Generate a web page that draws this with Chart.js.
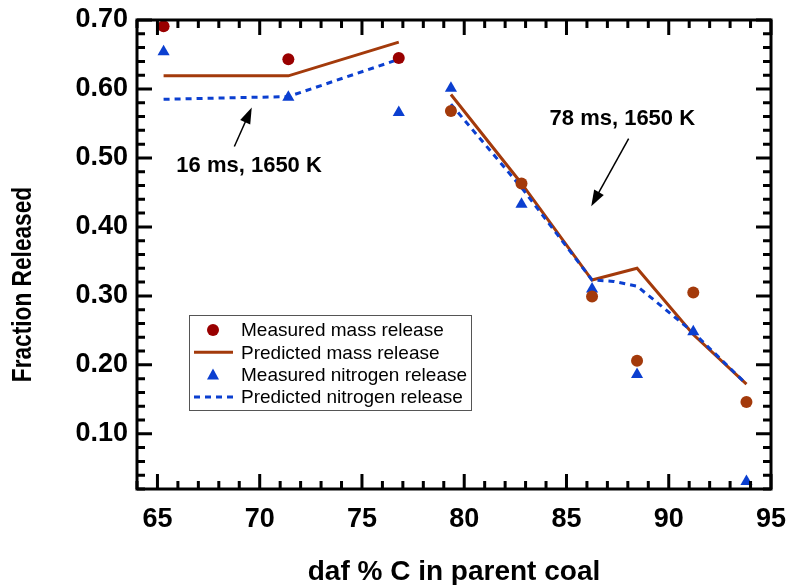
<!DOCTYPE html>
<html>
<head>
<meta charset="utf-8">
<script src="https://cdn.jsdelivr.net/npm/chart.js@4.4.1/dist/chart.umd.min.js"></script>
<style>
  body { margin: 0; background: #fff; }
  canvas { display: block; }
</style>
</head>
<body>
<canvas id="coal-chart" width="788" height="585"></canvas>
<script>
// daf % C of each coal
const carbon = [65.3, 71.4, 76.8, 79.35, 82.8, 86.25, 88.45, 91.2, 93.8];
// measured values, same order as carbon
const massMeasured = [0.691, 0.643, 0.645, 0.568, 0.463, 0.299, 0.206, 0.305, 0.146];
const nitrogenMeasured = [0.654, 0.588, 0.566, 0.601, 0.433, 0.31, 0.186, 0.248, 0.031];
// predictions (null = break between the 16 ms and 78 ms runs)
const massPredX = [65.3, 71.4, 76.8, 78, 79.35, 82.8, 86.25, 88.45, 91.2, 93.8];
const massPredY = [0.619, 0.619, 0.668, null, 0.592, 0.463, 0.323, 0.34, 0.244, 0.172];
const nitroPredX = [65.3, 71.4, 76.6, 78, 79.35, 82.8, 86.25, 87.3, 88.45, 89.2, 91.2, 93.8];
const nitroPredY = [0.585, 0.589, 0.641, null, 0.578, 0.457, 0.323, 0.321, 0.314, 0.296, 0.247, 0.172];
const xTicks = [65, 70, 75, 80, 85, 90, 95];
const yTicks = [0.1, 0.2, 0.3, 0.4, 0.5, 0.6, 0.7];
const legendLabels = ["Measured mass release", "Predicted mass release",
  "Measured nitrogen release", "Predicted nitrogen release"];
const yTitle = "Fraction Released";

const RED16 = "#990000";
const BROWN = "#a33a0b";
const BLUE = "#0b3fd0";
const FONT = "'Liberation Sans', Arial, sans-serif";

const pts = (xs, ys) => xs.map((x, i) => ({ x: x, y: ys[i] }));

// frame with inward ticks, y title, legend box and the two labelled arrows
const decorPlugin = {
  id: "decor",
  afterDraw(chart) {
    const ctx = chart.ctx;
    const a = chart.chartArea;
    const xs = chart.scales.x, ys = chart.scales.y;
    ctx.save();
    ctx.strokeStyle = "#000";
    ctx.lineWidth = 3;
    ctx.lineCap = "butt";
    ctx.beginPath();
    for (let v = 64; v <= 95; v++) {
      const px = xs.getPixelForValue(v);
      const len = v % 5 === 0 ? 15 : 8;
      ctx.moveTo(px, a.bottom); ctx.lineTo(px, a.bottom - len);
      ctx.moveTo(px, a.top); ctx.lineTo(px, a.top + len);
    }
    for (let k = 1; k <= 35; k++) {
      const v = k * 0.02;
      const py = ys.getPixelForValue(v);
      const len = k % 5 === 0 ? 15 : 8;
      ctx.moveTo(a.left, py); ctx.lineTo(a.left + len, py);
      ctx.moveTo(a.right, py); ctx.lineTo(a.right - len, py);
    }
    ctx.stroke();
    ctx.strokeRect(a.left, a.top, a.right - a.left, a.bottom - a.top);

    // condensed y-axis title
    ctx.save();
    ctx.translate(23, (a.top + a.bottom) / 2 + 30);
    ctx.rotate(-Math.PI / 2);
    ctx.scale(0.81, 1);
    ctx.font = "bold 28px " + FONT;
    ctx.fillStyle = "#000";
    ctx.textAlign = "center";
    ctx.textBaseline = "middle";
    ctx.fillText(yTitle, 0, 0);
    ctx.restore();

    // legend
    const lx = a.left + 52, ly = a.top + 295;
    ctx.lineWidth = 1;
    ctx.strokeStyle = "#555";
    ctx.strokeRect(lx + 0.5, ly + 0.5, 282, 95);
    ctx.font = "19px " + FONT;
    ctx.textBaseline = "middle";
    legendLabels.forEach((t, i) => {
      const cy = ly + 15 + i * 22.3;
      ctx.fillStyle = "#000";
      ctx.fillText(t, lx + 52, cy + 1);
      const sx = lx + 24;
      if (i === 0) {
        ctx.fillStyle = RED16;
        ctx.beginPath(); ctx.arc(sx, cy, 6, 0, Math.PI * 2); ctx.fill();
      } else if (i === 2) {
        ctx.fillStyle = BLUE;
        ctx.beginPath();
        ctx.moveTo(sx, cy - 6); ctx.lineTo(sx + 6, cy + 5); ctx.lineTo(sx - 6, cy + 5);
        ctx.closePath(); ctx.fill();
      } else {
        ctx.lineWidth = 3;
        ctx.strokeStyle = i === 1 ? BROWN : BLUE;
        ctx.setLineDash(i === 1 ? [] : [6, 5]);
        ctx.beginPath(); ctx.moveTo(lx + 5, cy); ctx.lineTo(lx + 44, cy); ctx.stroke();
        ctx.setLineDash([]);
      }
    });

    // annotations
    const notes = [
      { text: "16 ms, 1650 K", tx: 69.48, ty: 0.489, from: [68.76, 0.5165], to: [69.61, 0.573] },
      { text: "78 ms, 1650 K", tx: 87.73, ty: 0.556, from: [88.04, 0.528], to: [86.21, 0.43] }
    ];
    ctx.font = "bold 22px " + FONT;
    ctx.textAlign = "center";
    notes.forEach(n => {
      ctx.fillStyle = "#000";
      ctx.fillText(n.text, xs.getPixelForValue(n.tx), ys.getPixelForValue(n.ty));
      const x1 = xs.getPixelForValue(n.from[0]), y1 = ys.getPixelForValue(n.from[1]);
      const x2 = xs.getPixelForValue(n.to[0]), y2 = ys.getPixelForValue(n.to[1]);
      const ang = Math.atan2(y2 - y1, x2 - x1);
      ctx.strokeStyle = "#000";
      ctx.lineWidth = 1.5;
      ctx.beginPath();
      ctx.moveTo(x1, y1);
      ctx.lineTo(x2 - 12 * Math.cos(ang), y2 - 12 * Math.sin(ang));
      ctx.stroke();
      ctx.beginPath();
      ctx.moveTo(x2, y2);
      ctx.lineTo(x2 - 16 * Math.cos(ang) + 5.5 * Math.sin(ang), y2 - 16 * Math.sin(ang) - 5.5 * Math.cos(ang));
      ctx.lineTo(x2 - 16 * Math.cos(ang) - 5.5 * Math.sin(ang), y2 - 16 * Math.sin(ang) + 5.5 * Math.cos(ang));
      ctx.closePath();
      ctx.fill();
    });
    ctx.restore();
  }
};

const ctx = document.getElementById("coal-chart").getContext("2d");
new Chart(ctx, {
  type: "scatter",
  data: {
    datasets: [
      {
        label: legendLabels[0],
        data: pts(carbon, massMeasured),
        pointStyle: "circle",
        pointRadius: 6,
        pointBackgroundColor: carbon.map(c => (c < 78 ? RED16 : BROWN)),
        pointBorderWidth: 0,
        showLine: false,
        order: 0
      },
      {
        label: legendLabels[2],
        data: pts(carbon, nitrogenMeasured),
        pointStyle: "triangle",
        pointRadius: 7,
        pointBackgroundColor: BLUE,
        pointBorderWidth: 0,
        showLine: false,
        order: 1
      },
      {
        label: legendLabels[1],
        data: pts(massPredX, massPredY),
        showLine: true,
        borderColor: BROWN,
        borderWidth: 3,
        pointRadius: 0,
        spanGaps: false,
        order: 3
      },
      {
        label: legendLabels[3],
        data: pts(nitroPredX, nitroPredY),
        showLine: true,
        borderColor: BLUE,
        borderWidth: 3,
        borderDash: [6, 5],
        pointRadius: 0,
        spanGaps: false,
        order: 2
      }
    ]
  },
  options: {
    responsive: false,
    devicePixelRatio: 1,
    animation: false,
    layout: { padding: { top: 20, right: 17, left: 0, bottom: 0 } },
    plugins: { legend: { display: false }, tooltip: { enabled: false } },
    scales: {
      x: {
        type: "linear",
        min: 64,
        max: 95,
        afterBuildTicks: s => { s.ticks = xTicks.map(v => ({ value: v })); },
        afterFit: s => { s.height = 96; s.paddingLeft = 0; s.paddingRight = 0; },
        grid: { display: false, drawTicks: false },
        border: { display: false },
        ticks: { color: "#000", padding: 14, font: { family: FONT, size: 27, weight: "bold" } },
        title: {
          display: true,
          text: "daf % C in parent coal",
          color: "#000",
          padding: { top: 0, bottom: -4 },
          font: { family: FONT, size: 28, weight: "bold" }
        }
      },
      y: {
        type: "linear",
        min: 0.02,
        max: 0.7,
        afterBuildTicks: s => { s.ticks = yTicks.map(v => ({ value: v })); },
        afterFit: s => { s.width = 137; s.paddingTop = 0; s.paddingBottom = 0; },
        grid: { display: false, drawTicks: false },
        border: { display: false },
        ticks: {
          color: "#000",
          padding: 9,
          callback: v => v.toFixed(2),
          font: { family: FONT, size: 27, weight: "bold" }
        }
      }
    }
  },
  plugins: [decorPlugin]
});
</script>
</body>
</html>
